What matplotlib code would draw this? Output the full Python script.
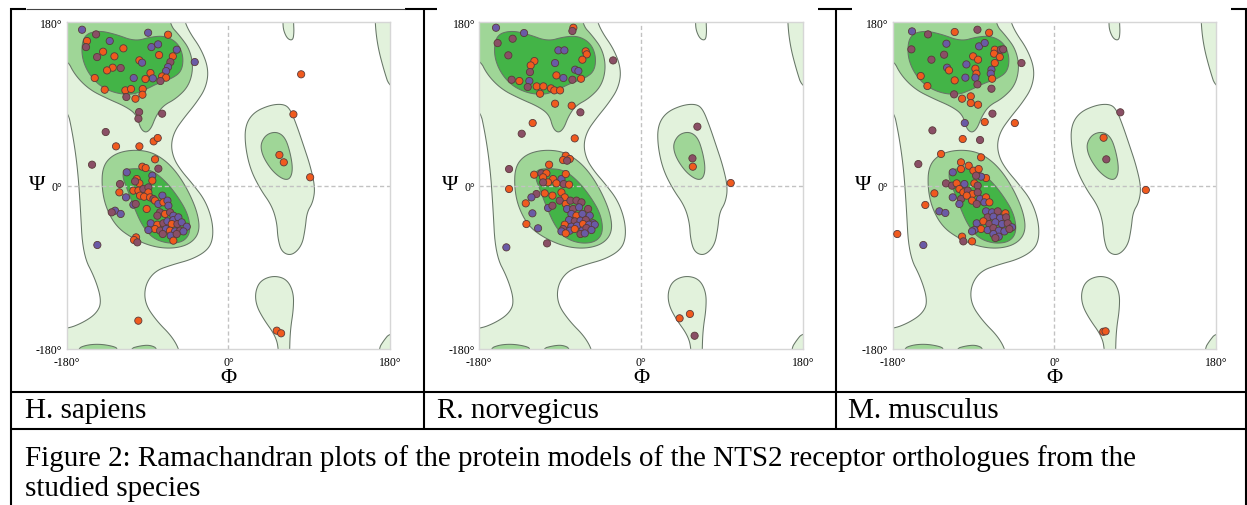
"""Ramachandran plots of the NTS2 receptor models, three species in a table."""
import matplotlib
matplotlib.use("Agg")
import matplotlib.pyplot as plt
from matplotlib.lines import Line2D
from matplotlib.patches import Polygon
import numpy as np

W, H = 1247, 506
SERIF = ["Liberation Serif", "DejaVu Serif"]

SPECIES = ["H. sapiens", "R. norvegicus", "M. musculus"]
CAPTION = ["Figure 2: Ramachandran plots of the protein models of the NTS2 receptor orthologues from the",
           "studied species"]
TICKS = [-180, 0, 180]
TICK_LABELS = ["-180\u00b0", "0\u00b0", "180\u00b0"]

# background regions as (phi, psi) outlines; vertices beyond +-180 get clipped
LIGHT_MAIN = [(-215, 215), (-52, 215), (-50, 185), (-44, 170), (-30, 150), (-22, 128), (-25, 108),
              (-36, 91), (-50, 74), (-60, 60), (-64, 45), (-61, 30), (-53, 17), (-40, 2), (-26, -16),
              (-18, -38), (-17, -58), (-23, -71), (-40, -81), (-62, -87), (-82, -94), (-93, -110),
              (-93, -130), (-80, -149), (-62, -167), (-53, -185), (-52, -215), (-215, -215),
              (-215, -160), (-180, -158), (-162, -151), (-147, -141), (-141, -128), (-148, -103),
              (-162, -76), (-165, -20), (-168, 20), (-173, 55), (-180, 88), (-215, 92)]
LIGHT_LH = [(18.6, 66.1), (27.9, 80.8), (46.4, 88.9), (61.3, 90.0), (68.7, 84.5), (76.1, 66.1),
            (83.6, 44.1), (91.0, 22.0), (96.5, -1.9), (94.0, -18.4), (87.3, -29.4), (85.4, -47.8),
            (81.7, -66.2), (70.6, -77.2), (59.4, -73.5), (55.0, -58.8), (53.9, -40.4), (48.3, -22.1),
            (35.3, -3.7), (24.2, 18.3), (18.6, 44.1)]
LIGHT_LOW = [(29.7, -117.6), (35.3, -104.7), (50, -99), (65, -103), (72.4, -117.6), (72.4, -136),
             (69, -158), (68, -180), (68, -215), (56, -215), (56, -180), (52, -165), (39, -147),
             (31, -132)]
LIGHT_TOP = [(60.5, 215), (72.4, 215), (72.4, 180), (73, 169), (71.7, 160), (65.7, 161.6),
             (61.3, 170.8), (60.5, 180)]
LIGHT_TR = [(163, 215), (215, 215), (215, 100), (180, 106), (172.6, 128.6), (166, 154), (163, 180)]
LIGHT_BR = [(167, -215), (215, -215), (215, -160), (180, -162), (172.6, -171), (167, -180)]

MED_BETA = [(-215, 215), (-68, 215), (-66, 178), (-54, 165), (-43, 150), (-39, 130), (-44, 110),
            (-58, 96), (-73, 88), (-81, 76), (-86, 63), (-92, 58), (-98, 63), (-102, 78), (-114, 87),
            (-135, 96), (-155, 106), (-171, 122), (-180, 140), (-215, 150)]
MED_ALPHA = [(-140, 21), (-129, 34), (-110, 39.5), (-88, 38), (-71, 28.5), (-57, 14), (-44, -7),
             (-34, -31), (-32, -51), (-42, -64), (-61, -69.5), (-84, -67.5), (-107, -58),
             (-125, -45), (-136.5, -24), (-141, -2)]
MED_LH = [(36.4, 47.7), (42.7, 56.9), (53.9, 59.5), (63.1, 53.2), (68.7, 36.7), (71.7, 18.3),
          (68.7, 7.3), (61.3, 6.6), (50.2, 14.7), (40.9, 27.5), (36.4, 38.5)]
MED_LOW1 = [(-169, -215), (-169, -180), (-158, -175.5), (-143, -174.5), (-128, -177),
            (-122.5, -180), (-122.5, -215)]
MED_LOW2 = [(-111, -215), (-111, -180), (-98, -176.4), (-87, -175.6), (-78, -180), (-78, -215)]

DARK_BETA = [(-161, 166), (-145, 171), (-126, 167), (-104, 159), (-86, 164), (-70, 165), (-56, 157),
             (-50, 142), (-52, 126), (-63, 118), (-78, 113), (-92, 106), (-107, 100), (-127, 102),
             (-145, 111), (-158, 127), (-164, 146)]
DARK_ALPHA = [(-116, 17.5), (-104, 19), (-86, 17.5), (-71, 6), (-57, -11), (-45, -31), (-42, -51),
              (-50, -62), (-67, -64), (-84.5, -58), (-96, -44), (-105, -24), (-112, -5.5),
              (-118, 9.5)]

# residues: o = orange, p = purple, b = brownish
HS_PHI = [-162.9, -147.3, -157.4, -158.5, -132.1, -139.5, -116.9, -146.2, -126.9, -89.4,
          -67.2, -85.7, -78.3, -57.5, -77.2, -61.9, -64.6, -37.5, -99.1, -96.1,
          -128.8, -135.1, -119.9, -67.2, -69.4, -86.8, -73.8, -69.4, -84.2, -92.4,
          -75.7, -105.4, -148.8, -137.7, -114.7, -108.4, -95.4, -95.7, -113.6, -103.5,
          -99.4, -73.8, -100.2, -136.6,
          -83.2, -78.7, -99.1, -125.1, -151.8, -81.7, -95.8, -92.1, -78.0, -113.2,
          -102.1, -99.1, -103.9, -84.7, -84.7, -120.7, -121.4, -114.0, -105.8, -100.2,
          -94.7, -89.1, -89.1, -98.4, -93.9, -87.2, -83.5, -73.5, -81.7, -105.8,
          -103.2, -91.0, -78.0, -72.4, -67.9, -66.8, -126.2, -129.9, -119.9, -76.1,
          -70.5, -65.0, -61.3, -79.1, -86.5, -79.1, -72.4, -67.9, -61.3, -55.7,
          -63.1, -56.8, -52.0, -46.4, -81.7, -76.1, -69.4, -65.0, -59.4, -53.8,
          -50.1, -89.1, -73.1, -64.2, -57.6, -61.3, -102.8, -105.1, -101.4, -145.9,
          -100.3, 80.9, 72.3, 56.7, 61.6, 90.9, 53.8, 58.6]
HS_PSI = [171.8, 166.7, 159.4, 152.7, 159.4, 147.6, 151.3, 141.7, 142.5, 168.5,
          166.3, 152.7, 155.7, 149.8, 143.9, 142.5, 136.2, 136.2, 138.1, 135.5,
          130.0, 127.0, 129.6, 130.7, 126.3, 124.1, 120.4, 119.0, 118.2, 117.5,
          115.3, 118.6, 118.6, 105.7, 105.0, 106.5, 106.5, 100.2, 97.7, 95.8,
          81.1, 79.3, 73.8, 59.1,
          48.8, 52.5, 43.3, 43.3, 23.1, 29.0, 20.9, 19.4, 18.7, 14.7,
          7.3, 2.5, 4.7, 11.0, 5.5, 1.8, -7.4, -12.9, -5.5, -5.5,
          -3.7, -1.9, -7.4, -11.0, -12.2, -12.9, -14.7, -11.0, -16.5, -21.0,
          -20.2, -25.7, -20.2, -18.4, -16.5, -22.1, -27.6, -29.4, -31.2, -29.4,
          -31.2, -29.4, -33.1, -33.1, -41.5, -43.0, -41.5, -39.3, -37.9, -34.9,
          -42.3, -42.3, -40.4, -45.2, -47.8, -49.6, -47.8, -49.6, -50.4, -49.6,
          -50.4, -48.9, -53.3, -55.1, -53.3, -60.6, -57.0, -59.9, -62.5, -65.4,
          -148.8, 122.7, 78.6, 33.8, 25.7, 9.2, -159.8, -162.7]
HS_KIND = ("pbobpoobop" "opppoobpop" "oobppooopo" "bpoooooobo" "bbbb"
           "oooobooobp" "oobpobopoo" "bboooobpop" "bopopppbpb" "obpbpobppp"
           "obppobpopb" "ppbpbooobp" "oooooooo")

RN_PHI = [-161.4, -130.2, -75.3, -76.4, -159.6, -142.9, -147.7, -92.0, -85.3, -61.6,
          -60.4, -65.3, -118.7, -122.8, -95.7, -123.6, -73.4, -69.7, -94.2, -86.4,
          -76.4, -66.8, -144.0, -135.4, -124.3, -126.1, -116.1, -108.7, -100.2, -96.5,
          -90.1, -112.4, -95.7, -77.2, -67.5, -31.1, -120.6, -132.8, -73.8,
          -83.8, -79.3, -86.7, -82.3, -102.3, -146.9, -119.0, -110.9, -105.3, -109.0,
          -97.9, -88.6, -83.8, -103.5, -94.2, -86.0, -80.1, -109.0, -146.9, -116.4,
          -107.2, -98.6, -88.6, -84.9, -122.0, -128.3, -90.5, -83.8, -78.6, -71.9,
          -66.3, -103.5, -98.6, -82.3, -75.6, -68.9, -58.9, -120.9, -77.5, -71.9,
          -65.2, -57.1, -80.1, -73.8, -67.4, -61.5, -53.3, -84.9, -77.5, -71.2,
          -64.5, -57.8, -51.5, -86.7, -79.3, -73.8, -65.2, -60.8, -55.2, -88.6,
          -83.8, -67.4, -62.6, -127.6, -114.6, -104.6, -149.9,
          62.7, 57.2, 57.6, 99.8, 42.9, 54.4, 59.6]
RN_PSI = [174.0, 168.2, 174.0, 170.4, 157.1, 161.9, 143.6, 149.1, 149.1, 148.0,
          144.7, 138.8, 137.3, 132.5, 135.1, 125.2, 127.8, 126.3, 121.5, 118.6,
          116.7, 117.8, 116.7, 115.3, 115.3, 108.7, 109.4, 109.4, 107.2, 105.0,
          105.0, 101.3, 90.3, 88.1, 80.8, 138.0, 69.0, 57.2, 52.1,
          33.0, 29.4, 28.2, 27.5, 23.1, 18.3, 12.1, 13.6, 13.6, 9.2,
          7.3, 7.3, 12.8, 3.6, 2.5, 1.8, 1.1, 3.6, -3.7, -9.2,
          -8.5, -11.0, -7.4, -12.9, -12.9, -19.5, -16.5, -20.2, -16.5, -16.5,
          -18.4, -24.6, -22.1, -25.7, -25.7, -23.9, -25.7, -30.5, -31.2, -33.1,
          -31.2, -33.1, -37.9, -39.3, -38.6, -37.9, -41.5, -43.0, -45.2, -44.1,
          -42.3, -43.0, -43.0, -47.8, -49.6, -47.8, -49.6, -46.7, -48.9, -50.4,
          -52.6, -53.3, -52.6, -42.3, -47.0, -63.6, -68.0,
          65.0, 30.1, 20.9, 2.9, -146.2, -141.4, -165.4]
RN_KIND = ("ppobbbbppo" "oooopbppop" "bobopboooo" "oooobbobo"
           "ooobobob" "oo" "opooobobob" "oooopobobb" "bpbpbpbppo" "pppbpbpopp"
           "oppbpopbpp" "obpopbp" "bboooob")

MM_PHI = [-158.5, -140.7, -111.0, -85.7, -72.7, -159.2, -120.2, -136.9, -122.8, -83.9,
          -77.6, -66.4, -59.7, -57.1, -67.2, -60.8, -90.5, -85.0, -98.0, -66.4,
          -36.7, -119.5, -117.3, -88.0, -86.8, -70.1, -70.9, -99.1, -88.0, -69.4,
          -148.8, -111.0, -141.4, -85.7, -70.1, -111.7, -102.8, -93.1, -93.1, -85.0,
          -69.0, -99.8, -77.6, -44.1, -135.8,
          -102.1, -82.8, -126.2, -81.7, -151.5, -104.0, -95.4, -104.0, -90.2, -113.2,
          -84.3, -76.1, -81.7, -87.2, -120.7, -114.0, -108.8, -100.2, -89.1, -85.4,
          -133.6, -105.8, -101.4, -96.5, -91.0, -85.4, -113.2, -103.9, -97.6, -91.7,
          -82.8, -76.1, -105.8, -86.5, -78.0, -72.4, -143.7, -128.1, -121.4, -76.1,
          -69.4, -63.1, -54.6, -74.3, -67.9, -60.5, -53.8, -86.5, -79.1, -72.4,
          -65.7, -58.3, -52.0, -47.2, -81.7, -74.3, -67.9, -62.0, -55.7, -50.1,
          -89.1, -91.7, -67.9, -62.0, -65.7, -102.8, -101.4, -91.7, -145.9,
          -174.9, 73.3, 54.7, 57.7, 101.7, 54.3, 56.9]
MM_PSI = [170.0, 166.7, 169.3, 171.8, 168.5, 150.2, 156.4, 138.8, 144.3, 153.5,
          157.2, 149.8, 149.8, 150.2, 145.4, 141.7, 142.5, 138.8, 133.6, 135.1,
          135.1, 130.0, 127.0, 128.9, 123.4, 127.8, 123.4, 119.0, 119.0, 117.8,
          120.8, 116.0, 109.8, 111.6, 106.8, 100.6, 95.8, 98.4, 91.0, 89.2,
          79.3, 69.0, 70.1, 69.0, 60.9,
          51.4, 50.3, 34.9, 31.2, 23.8, 25.7, 22.0, 18.3, 16.5, 14.7,
          18.3, 8.4, 9.9, 11.0, 2.5, 0.0, 2.5, 1.8, 2.5, 0.0,
          -8.5, -3.7, -7.4, -5.5, -9.2, -7.4, -12.9, -14.7, -11.0, -16.5,
          -14.7, -12.9, -20.2, -20.2, -18.4, -18.4, -21.3, -28.3, -30.1, -28.3,
          -29.4, -28.3, -30.5, -34.9, -34.2, -35.7, -34.9, -41.5, -39.3, -42.3,
          -40.4, -42.3, -41.5, -45.9, -47.8, -48.9, -46.7, -49.6, -50.4, -47.8,
          -48.9, -50.4, -53.3, -56.2, -57.7, -56.2, -61.4, -61.4, -65.4,
          -53.3, 80.8, 52.8, 29.0, -4.8, -161.0, -160.5]
MM_KIND = ("pbobobpbbp" "pobboooopo" "bpoooppppo" "ooobbboooo" "bpoob"
           "obooboooop" "oopbbbopob" "ooobobpboo" "popbpooppp" "pbobppbpob"
           "ppbpopbppb" "ppppbobop" "obobooo")

LIGHT, MED, DARK = "#e2f2dc", "#9fd697", "#43b447"
EDGE = "#667566"
DOT = {"o": "#f05a1e", "p": "#6a5aa6", "b": "#8a4f66"}


def smooth(pts, n=3):
    # closed Chaikin corner cutting, just to round the outlines
    p = np.asarray(pts, float)
    for _ in range(n):
        q = np.roll(p, -1, axis=0)
        out = np.empty((2 * len(p), 2))
        out[0::2] = 0.75 * p + 0.25 * q
        out[1::2] = 0.25 * p + 0.75 * q
        p = out
    return p


def fx(px):
    return px / W


def fy(py):
    return 1 - py / H


def rama(ax, phi, psi, kind):
    for shapes, col in [([LIGHT_MAIN, LIGHT_LH, LIGHT_LOW, LIGHT_TOP, LIGHT_TR, LIGHT_BR], LIGHT),
                        ([MED_BETA, MED_ALPHA, MED_LH, MED_LOW1, MED_LOW2], MED),
                        ([DARK_BETA, DARK_ALPHA], DARK)]:
        for s in shapes:
            ax.add_patch(Polygon(smooth(s), closed=True, facecolor=col, edgecolor=EDGE,
                                 linewidth=0.75, zorder=1))
    ax.axhline(0, color="#c2c2c2", lw=1.0, ls=(0, (3, 2)), zorder=2)
    ax.axvline(0, color="#c2c2c2", lw=1.0, ls=(0, (3, 2)), zorder=2)
    ax.scatter(phi, psi, s=27, c=[DOT[k] for k in kind], edgecolors="#5b3a3a",
               linewidths=0.6, zorder=4)
    ax.set_xlim(-180, 180)
    ax.set_ylim(-180, 180)
    ax.set_xticks(TICKS)
    ax.set_xticklabels(TICK_LABELS, family=SERIF, fontsize=8.5)
    ax.set_yticks(TICKS)
    ax.set_yticklabels(TICK_LABELS, family=SERIF, fontsize=8.5)
    ax.tick_params(axis="x", length=0, pad=5)
    ax.tick_params(axis="y", length=0, pad=3)
    for sp in ax.spines.values():
        sp.set_color("#d6d6d6")
        sp.set_linewidth(1.0)
    ax.text(-0.09, 0.505, "\u03a8", transform=ax.transAxes, ha="center", va="center",
            family=SERIF, fontsize=16)
    ax.text(0.5, -0.088, "\u03a6", transform=ax.transAxes, ha="center", va="center",
            family=SERIF, fontsize=16)


def hline(y, x0, x1, lw=1.5, color="black"):
    fig.add_artist(Line2D([fx(x0), fx(x1)], [fy(y), fy(y)], transform=fig.transFigure,
                          color=color, lw=lw, solid_capstyle="butt"))


def vline(x, y0, y1, lw=1.5):
    fig.add_artist(Line2D([fx(x), fx(x)], [fy(y0), fy(y1)], transform=fig.transFigure,
                          color="black", lw=lw, solid_capstyle="butt"))


fig = plt.figure(figsize=(W / 100, H / 100), dpi=100)

panels = [(HS_PHI, HS_PSI, HS_KIND), (RN_PHI, RN_PSI, RN_KIND), (MM_PHI, MM_PSI, MM_KIND)]
lefts = [66.7, 479.3, 892.7]
for left, (phi, psi, kind) in zip(lefts, panels):
    ax = fig.add_axes([fx(left), fy(350), 323.5 / W, 326.7 / H])
    rama(ax, phi, psi, kind)

# table frame
for x0, x1 in [(10, 26), (405, 437), (818, 852), (1231, 1247)]:
    hline(10, x0, x1)
hline(10, 26, 405, lw=0.8, color="#444444")
hline(392.5, 10, 1247)
hline(430, 10, 1247)
vline(11, 9, 506)
vline(1246, 9, 506)
vline(424, 9, 430)
vline(836, 9, 430)

for x, name in zip([25, 437, 848], SPECIES):
    fig.text(fx(x), fy(411), name, ha="left", va="center", family=SERIF, fontsize=21)
for y, line in zip([459, 489], CAPTION):
    fig.text(fx(25), fy(y), line, ha="left", va="center", family=SERIF, fontsize=21)

fig.savefig("out.png", dpi=100)
